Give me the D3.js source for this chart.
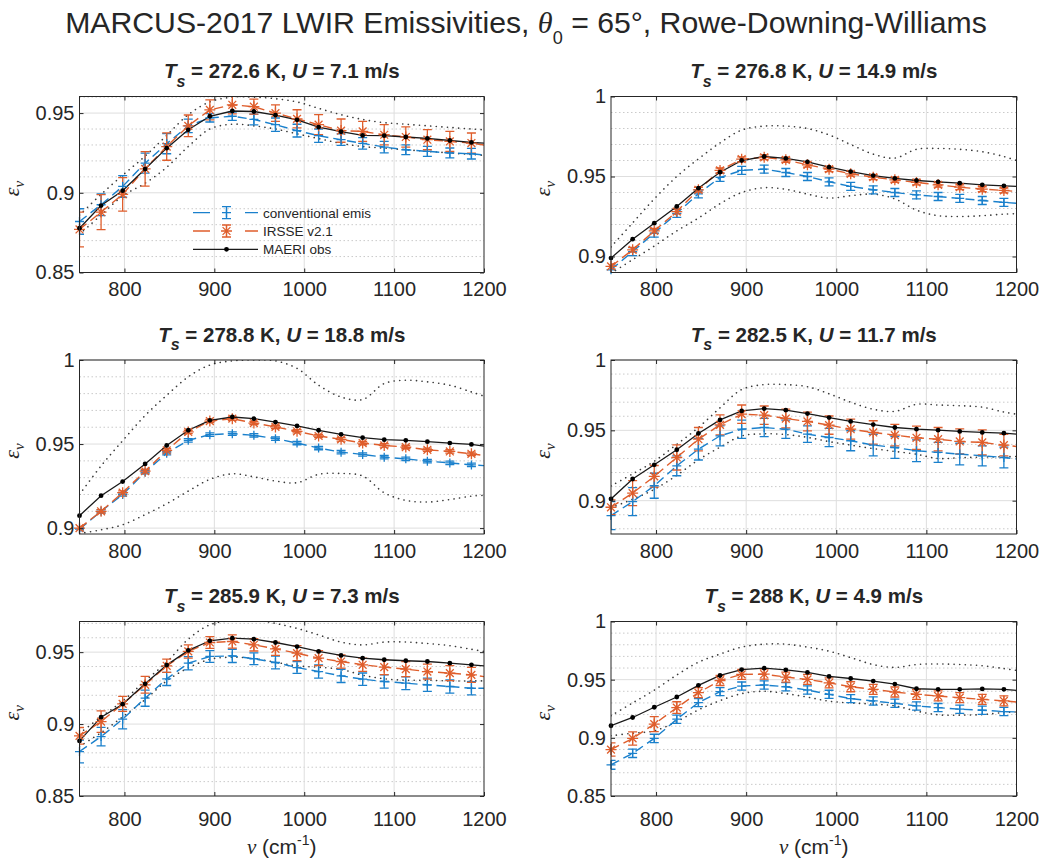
<!DOCTYPE html>
<html>
<head>
<meta charset="utf-8">
<script src="https://cdn.jsdelivr.net/npm/d3@7"></script>
<style>
  body { margin: 0; background: #fff; }
  svg text { font-family: "Liberation Sans", Arial, sans-serif; fill: #262626; }
</style>
</head>
<body>
<div id="chart"></div>
<script>
// wavenumber channels (cm-1); the last one only closes the lines at the axis edge
const nu = [750, 774, 798, 823, 847, 871, 895, 920, 944, 968, 992, 1016, 1041, 1065, 1089, 1113, 1137, 1162, 1186, 1200];

const surfTemp = ["272.6", "276.8", "278.8", "282.5", "285.9", "288"];
const windSpeed = ["7.1", "14.9", "18.8", "11.7", "7.3", "4.9"];
const yLimits = [[0.85, 0.9604], [0.89, 1], [0.8965, 1], [0.8763, 1], [0.85, 0.9713], [0.85, 1]];
const xTicks = [800, 900, 1000, 1100, 1200];

// panel 1
const maeri1 = [.8778, .892, .9013, .9149, .928, .9395, .948, .9513, .951, .9487, .9458, .9412, .9383, .936, .9358, .935, .9341, .9328, .9316, .9312];
const irsse1 = [.877, .8879, .899, .915, .929, .942, .952, .9552, .954, .95, .9464, .9427, .939, .9385, .9364, .935, .9333, .9322, .9312, .930];
const conv1 = [.882, .8925, .904, .9186, .9308, .942, .947, .948, .946, .9427, .939, .9358, .9333, .931, .9287, .927, .926, .925, .9245, .9237];
const irsseErr1 = [.0109, .011, .0105, .0108, .0086, .0068, .0063, .0057, .0047, .0052, .0057, .0063, .0073, .0063, .0063, .0063, .0063, .0063, .0063];
const convErr1 = [.008, .0068, .0068, .0063, .0063, .0042, .0026, .0026, .0034, .0042, .004, .0042, .0036, .0036, .0036, .0031, .0031, .0031, .0033];
const upper1 = [.886, .899, .911, .923, .936, .949, .957, .960, .960, .959, .957, .953, .949, .946, .944, .943, .942, .941, .940, .9395];
const lower1 = [.874, .886, .898, .906, .916, .929, .940, .943, .942, .940, .937, .934, .931, .929, .928, .927, .926, .925, .924, .9235];

// panel 2
const maeri2 = [.899, .9108, .9208, .9313, .9427, .9527, .96, .9625, .9613, .9592, .9558, .9531, .9506, .9488, .9475, .9467, .9458, .9448, .9442, .9438];
const irsse2 = [.8938, .9042, .916, .9281, .9417, .9538, .9608, .962, .9604, .9573, .9546, .9517, .9496, .9479, .9463, .9448, .9433, .9421, .9413, .9406];
const conv2 = [.8917, .9031, .9146, .927, .9392, .9494, .9538, .9546, .9525, .95, .9467, .9438, .9417, .94, .9385, .9375, .9363, .935, .9338, .9333];
const irsseErr2 = [.0015, .0015, .0015, .0015, .0015, .0015, .0015, .0015, .0015, .0015, .0015, .0015, .0015, .0015, .0015, .0015, .0015, .0015, .0015];
const convErr2 = [.0025, .0025, .0025, .0025, .0025, .0025, .0025, .0025, .0025, .0025, .0025, .0025, .0025, .0025, .0025, .0025, .0025, .0025, .0025];
const upper2 = [.906, .921, .936, .950, .961, .971, .979, .9815, .9815, .980, .976, .970, .964, .9615, .967, .9675, .967, .9655, .9625, .960];
const lower2 = [.8895, .898, .9065, .916, .924, .933, .940, .943, .942, .939, .9365, .938, .939, .936, .929, .9255, .925, .9255, .9265, .9267];

// panel 3
const maeri3 = [.9074, .9193, .9277, .9382, .9492, .9582, .9641, .9661, .9651, .9631, .9608, .9582, .9558, .9538, .9526, .9522, .9514, .9506, .9498, .9488];
const irsse3 = [.900, .910, .9211, .9339, .9462, .9572, .9637, .9651, .9625, .9602, .9576, .9548, .9528, .9506, .9492, .9482, .9466, .9456, .9442, .9432];
const conv3 = [.8994, .910, .920, .9333, .9446, .9522, .9556, .9562, .9552, .9532, .9506, .9476, .9452, .9438, .9422, .9412, .9398, .9388, .9376, .9372];
const irsseErr3 = [.001, .001, .001, .001, .001, .001, .001, .001, .001, .001, .001, .001, .001, .001, .001, .001, .001, .001, .001];
const convErr3 = [.001, .001, .001, .001, .001, .001, .001, .001, .001, .001, .001, .001, .001, .001, .001, .001, .001, .001, .001];
const upper3 = [.920, .937, .952, .967, .979, .990, .997, .9995, 1.0, .9995, .995, .985, .978, .9765, .986, .988, .987, .985, .981, .9785];
const lower3 = [.8968, .899, .902, .908, .9145, .922, .929, .9323, .9305, .928, .927, .932, .9325, .931, .921, .9165, .9155, .917, .919, .9195];

// panel 4
const maeri4 = [.9012, .9154, .9255, .9362, .9478, .9574, .9638, .9655, .9643, .9619, .9591, .9563, .9541, .952, .9508, .9501, .9492, .9485, .948, .9473];
const irsse4 = [.8953, .9054, .9173, .9307, .9437, .9539, .9615, .9608, .9584, .9563, .9537, .9508, .9485, .9466, .9447, .9437, .9421, .9414, .9395, .9385];
const conv4 = [.8894, .8993, .9106, .9248, .9366, .9461, .9508, .952, .9508, .9473, .9449, .9426, .9395, .9378, .9355, .9343, .9331, .9319, .9307, .9296];
const irsseErr4 = [.0053, .0089, .0077, .0089, .0083, .0071, .0065, .0065, .0067, .0067, .0065, .0071, .0083, .0077, .0083, .0083, .0089, .0089, .0077];
const convErr4 = [.010, .010, .0089, .0071, .0077, .0071, .0065, .0065, .0065, .0059, .0065, .0071, .0077, .0077, .0077, .0071, .0077, .0071, .0074];
const upper4 = [.9105, .919, .928, .940, .952, .966, .979, .9825, .9825, .981, .976, .970, .965, .9635, .9685, .968, .9675, .9665, .963, .9615];
const lower4 = [.895, .901, .908, .918, .929, .938, .946, .9475, .947, .945, .942, .9395, .937, .935, .933, .930, .9305, .931, .9312, .9314];

// panel 5
const maeri5 = [.8883, .9048, .9138, .928, .941, .9512, .9579, .9597, .959, .9567, .9539, .9505, .9477, .9458, .9447, .944, .9435, .9423, .9412, .9405];
const irsse5 = [.8918, .9017, .914, .9273, .9405, .9505, .9567, .9574, .9551, .9523, .9493, .9458, .9435, .9412, .9396, .9382, .9365, .9354, .9342, .933];
const conv5 = [.8809, .8913, .9034, .918, .9314, .9423, .947, .9474, .9454, .9428, .9393, .9365, .9335, .9312, .9296, .9284, .9273, .9261, .9249, .9249];
const irsseErr5 = [.0058, .0075, .0052, .0058, .0046, .0046, .0041, .0046, .0043, .0046, .0052, .0052, .0046, .0046, .0052, .0052, .0052, .0052, .0052];
const convErr5 = [.0079, .0064, .0067, .0056, .0046, .0046, .0041, .0046, .0041, .0044, .0041, .0046, .0046, .0043, .0046, .0044, .0046, .0046, .0046];
const upper5 = [.8935, .905, .916, .930, .943, .959, .969, .972, .9725, .970, .9665, .962, .957, .955, .957, .957, .956, .9545, .952, .9505];
const lower5 = [.8845, .894, .905, .917, .930, .939, .945, .9465, .9455, .943, .9405, .9395, .938, .934, .9315, .9305, .9305, .930, .930, .930];

// panel 6
const maeri6 = [.9104, .9175, .9263, .9351, .9451, .9536, .9587, .9599, .9584, .9562, .9528, .951, .9488, .9462, .9422, .9417, .9417, .942, .9417, .9408];
const irsse6 = [.8899, .8995, .9118, .926, .9388, .9493, .9545, .9547, .9522, .9502, .9473, .9439, .9417, .9394, .9374, .936, .9345, .9331, .9317, .9308];
const conv6 = [.8768, .8867, .8995, .916, .9303, .9397, .9445, .9454, .9439, .9411, .9374, .9337, .9317, .9297, .9274, .926, .9246, .9237, .9226, .9223];
const irsseErr6 = [.0057, .0057, .0064, .005, .0043, .0043, .0043, .0043, .0043, .0043, .0043, .0043, .0043, .0043, .0043, .0043, .0043, .0043, .0043];
const convErr6 = [.0038, .0036, .0036, .0035, .0035, .0035, .0035, .0035, .0035, .0035, .0035, .0035, .0035, .0035, .0035, .0035, .0035, .0035, .0035];
const upper6 = [.919, .930, .941, .954, .965, .972, .978, .9805, .9805, .978, .9745, .969, .963, .9605, .963, .9635, .963, .962, .9595, .958];
const lower6 = [.9018, .904, .906, .914, .924, .932, .938, .940, .938, .935, .9315, .930, .929, .9275, .923, .9198, .9195, .920, .9218, .9223];

const panels = [
    { maeri: maeri1, irsse: irsse1, conv: conv1, irsseErr: irsseErr1, convErr: convErr1, upper: upper1, lower: lower1 },
    { maeri: maeri2, irsse: irsse2, conv: conv2, irsseErr: irsseErr2, convErr: convErr2, upper: upper2, lower: lower2 },
    { maeri: maeri3, irsse: irsse3, conv: conv3, irsseErr: irsseErr3, convErr: convErr3, upper: upper3, lower: lower3 },
    { maeri: maeri4, irsse: irsse4, conv: conv4, irsseErr: irsseErr4, convErr: convErr4, upper: upper4, lower: lower4 },
    { maeri: maeri5, irsse: irsse5, conv: conv5, irsseErr: irsseErr5, convErr: convErr5, upper: upper5, lower: lower5 },
    { maeri: maeri6, irsse: irsse6, conv: conv6, irsseErr: irsseErr6, convErr: convErr6, upper: upper6, lower: lower6 }
];

const blue = "#1a80cc", orange = "#df5e2c", ink = "#262626";

const colX = [79.5, 611], colW = [404.5, 405.5];
const rowTop = [96.5, 360, 621.5], rowBot = [272.5, 534, 796];
const labelGap = [23.5, 23.5, 30];

const svg = d3.select("#chart").append("svg")
    .attr("width", 1041).attr("height", 863);

// main title, squeezed to the width it has in the figure
const main = svg.append("text")
    .attr("text-anchor", "middle")
    .style("font-size", "30px");
main.append("tspan").text("MARCUS-2017 LWIR Emissivities, ");
main.append("tspan").attr("font-style", "italic").attr("font-family", "Liberation Serif").text("θ");
main.append("tspan").attr("dy", 11).style("font-size", "18px").text("0");
main.append("tspan").attr("dy", -11).text(" = 65°, Rowe-Downing-Williams");
const mw = main.node().getComputedTextLength();
main.attr("transform", `translate(526,33) scale(${922 / mw},1)`);

const plusPath = "M-4.5,0H4.5M0,-4.5V4.5";
const starPath = "M-5.5,0H5.5M0,-5.5V5.5M-3.9,-3.9L3.9,3.9M-3.9,3.9L3.9,-3.9";

function drawPanel(i) {
    const p = panels[i];
    const col = i % 2, row = Math.floor(i / 2);
    const w = colW[col], h = rowBot[row] - rowTop[row];
    const [lo, hi] = yLimits[i];

    const x = d3.scaleLinear().domain([750, 1200]).range([0, w]);
    const y = d3.scaleLinear().domain([lo, hi]).range([h, 0]);

    const g = svg.append("g").attr("transform", `translate(${colX[col]},${rowTop[row]})`);

    g.append("clipPath").attr("id", "clip" + i)
        .append("rect").attr("width", w).attr("height", h);

    // grid
    const major = [], minor = [];
    for (let k = Math.ceil(lo * 100 - 1e-6); k <= Math.floor(hi * 100 + 1e-6); k++) {
        if (k % 5 === 0) major.push(k / 100); else minor.push(k / 100);
    }
    g.selectAll(".minor").data(minor).join("line")
        .attr("x1", 0).attr("x2", w)
        .attr("y1", d => y(d)).attr("y2", d => y(d))
        .attr("stroke", "#bdbdbd").attr("stroke-width", 0.8)
        .attr("stroke-dasharray", "1.5,2.5");
    g.selectAll(".hmajor").data(major).join("line")
        .attr("x1", 0).attr("x2", w)
        .attr("y1", d => y(d)).attr("y2", d => y(d))
        .attr("stroke", "#dedede");
    g.selectAll(".vmajor").data(xTicks.slice(0, -1)).join("line")
        .attr("x1", d => x(d)).attr("x2", d => x(d))
        .attr("y1", 0).attr("y2", h)
        .attr("stroke", "#dedede");

    const data = g.append("g").attr("clip-path", `url(#clip${i})`);

    const line = arr => d3.line().x((d, j) => x(nu[j])).y(d => y(d))(arr);
    const smooth = arr => d3.line().curve(d3.curveCatmullRom).x((d, j) => x(nu[j])).y(d => y(d))(arr);

    // uncertainty envelope
    [p.upper, p.lower].forEach(arr => {
        data.append("path").attr("d", smooth(arr))
            .attr("fill", "none").attr("stroke", "#3a3a3a")
            .attr("stroke-width", 1.6).attr("stroke-linecap", "round")
            .attr("stroke-dasharray", "0.1,5.5");
    });

    const pts = arr => arr.slice(0, -1).map((v, j) => ({ nu: nu[j], v: v }));

    function series(vals, errs, color, marker) {
        data.append("path").attr("d", line(vals))
            .attr("fill", "none").attr("stroke", color)
            .attr("stroke-width", 1.4).attr("stroke-dasharray", "9,5");
        const e = pts(vals).map((d, j) => ({ nu: d.nu, v: d.v, e: errs[j] }));
        const eb = data.append("g").attr("stroke", color).attr("stroke-width", 1.3);
        eb.selectAll("path").data(e).join("path")
            .attr("d", d => {
                const cx = x(d.nu), t = y(d.v + d.e), b = y(d.v - d.e);
                return `M${cx},${t}V${b}M${cx - 4.5},${t}H${cx + 4.5}M${cx - 4.5},${b}H${cx + 4.5}`;
            });
        g.append("g").selectAll("path").data(e).join("path")
            .attr("transform", d => `translate(${x(d.nu)},${y(d.v)})`)
            .attr("d", marker).attr("stroke", color).attr("stroke-width", 1.3).attr("fill", "none");
    }
    series(p.conv, p.convErr, blue, plusPath);
    series(p.irsse, p.irsseErr, orange, starPath);

    data.append("path").attr("d", line(p.maeri))
        .attr("fill", "none").attr("stroke", "#1a1a1a").attr("stroke-width", 1.3);
    g.append("g").selectAll("circle").data(pts(p.maeri)).join("circle")
        .attr("cx", d => x(d.nu)).attr("cy", d => y(d.v)).attr("r", 2.4)
        .attr("fill", "#000");

    // box and ticks
    g.append("rect").attr("width", w).attr("height", h)
        .attr("fill", "none").attr("stroke", ink).attr("stroke-width", 1);

    const yTicks = major;
    const fmt = d3.format("~g");
    const ax = g.append("g").attr("transform", `translate(0,${h})`)
        .call(d3.axisBottom(x).tickValues(xTicks).tickSizeInner(-4).tickSizeOuter(0).tickFormat(d3.format("d")));
    ax.selectAll("text").attr("y", labelGap[row]).attr("dy", null);
    g.append("g").call(d3.axisTop(x).tickValues(xTicks).tickSizeInner(-4).tickSizeOuter(0).tickFormat(""));
    g.append("g")
        .call(d3.axisLeft(y).tickValues(yTicks).tickSizeInner(-4).tickSizeOuter(0).tickPadding(5).tickFormat(fmt));
    g.append("g").attr("transform", `translate(${w},0)`)
        .call(d3.axisRight(y).tickValues(yTicks).tickSizeInner(-4).tickSizeOuter(0).tickFormat(""));
    g.selectAll(".domain").remove();
    g.selectAll(".tick line").attr("stroke", ink);
    g.selectAll(".tick text").style("font-size", "20px").attr("fill", ink);

    // subplot title
    const t = g.append("text").attr("x", w / 2).attr("y", -18.5)
        .attr("text-anchor", "middle").style("font-size", "20.5px").style("font-weight", "bold");
    t.append("tspan").attr("font-style", "italic").text("T");
    t.append("tspan").attr("font-style", "italic").attr("dy", 8.5).style("font-size", "16px").text("s");
    t.append("tspan").attr("dy", -8.5).text(` = ${surfTemp[i]} K, `);
    t.append("tspan").attr("font-style", "italic").text("U");
    t.append("tspan").text(` = ${windSpeed[i]} m/s`);

    // y label
    const yl = g.append("text")
        .attr("transform", `translate(-61,${h / 2 + 4}) rotate(-90)`)
        .attr("text-anchor", "middle")
        .style("font-family", "'Liberation Serif', serif").style("font-style", "italic")
        .style("font-size", "22px");
    yl.append("tspan").text("ε");
    yl.append("tspan").attr("dy", 5).style("font-size", "15px").text("ν");

    // x label on the bottom row
    if (row === 2) {
        const xl = g.append("text").attr("x", w / 2).attr("y", h + 58)
            .attr("text-anchor", "middle").style("font-size", "21px");
        xl.append("tspan").style("font-family", "'Liberation Serif', serif").style("font-style", "italic").text("ν");
        xl.append("tspan").text(" (cm");
        xl.append("tspan").attr("dy", -9).style("font-size", "14px").text("-1");
        xl.append("tspan").attr("dy", 9).text(")");
    }
}

panels.forEach((d, i) => drawPanel(i));

// legend in the first panel (no box)
const legendNames = ["conventional emis", "IRSSE v2.1", "MAERI obs"];
const legendY = [212.7, 231, 249.3];
const lg = svg.append("g");
legendNames.forEach((name, k) => {
    const yy = legendY[k];
    if (k < 2) {
        const c = k === 0 ? blue : orange;
        lg.append("path").attr("d", `M193,${yy}H210M245,${yy}H258`)
            .attr("stroke", c).attr("stroke-width", 1.3);
        lg.append("path").attr("d", `M226.5,${yy - 6}V${yy + 6}M222,${yy - 6}H231M222,${yy + 6}H231`)
            .attr("stroke", c).attr("stroke-width", 1.3);
        lg.append("path").attr("transform", `translate(226.5,${yy})`)
            .attr("d", k === 0 ? plusPath : starPath)
            .attr("stroke", c).attr("stroke-width", 1.3).attr("fill", "none");
    } else {
        lg.append("path").attr("d", `M193,${yy}H258`).attr("stroke", "#1a1a1a").attr("stroke-width", 1.3);
        lg.append("circle").attr("cx", 226.5).attr("cy", yy).attr("r", 2.4).attr("fill", "#000");
    }
    lg.append("text").attr("x", 263).attr("y", yy + 4.8)
        .style("font-size", "13.5px").text(name);
});
</script>
</body>
</html>
